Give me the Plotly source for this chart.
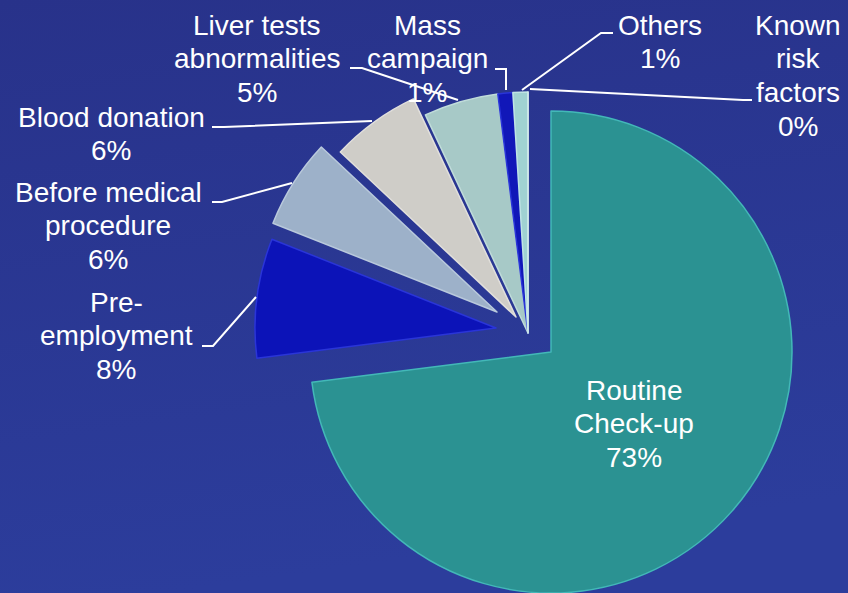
import base64
import plotly.graph_objects as go

# ---------------- data ----------------
categories = ["Routine Check-up", "Pre-employment", "Before medical procedure",
              "Blood donation", "Liver tests abnormalities", "Mass campaign",
              "Others", "Known risk factors"]
values = [73, 8, 6, 6, 5, 1, 1, 0]
display_lines = [["Routine", "Check-up"], ["Pre-", "employment"],
                 ["Before medical", "procedure"], ["Blood donation"],
                 ["Liver tests", "abnormalities"], ["Mass", "campaign"],
                 ["Others"], ["Known", "risk", "factors"]]

# ---------------- style / layout ----------------
slice_colors = ["#2b9292", "#0c13b8", "#9db1c9", "#cfcdc8",
                "#a7c9c7", "#1117b8", "#a0d2d2", "#c0dcdc"]
rim_colors = ["#43b8b8", "#2a35d8", "#b9c9dc", "#e2e0dc",
              "#c0dcda", "#2a35d8", "#bfe4e4", "#d4ecec"]
W, H = 848, 593
R = 241  # pie radius in px
# exploded groups: (slice indices, apex pixel position)
groups = [([0], (551, 352)), ([1], (496, 328)), ([2], (497, 312)),
          ([3], (516, 317)), ([4, 5, 6, 7], (528, 333))]
# label anchor: (center x px, first baseline px)
label_pos = [(634, 400), (116, 312), (108, 202), (111, 127),
             (257, 35), (427, 35), (660, 35), (798, 35)]
line_step = 33.7
font_size = 28
leaders = [
    [(350, 68), (362, 68), (458, 100)],
    [(495, 69), (506, 69), (506, 90)],
    [(613, 33), (601, 33), (522, 90)],
    [(752, 100), (743, 100), (530, 89)],
    [(212, 127), (224, 127), (372, 121)],
    [(212, 202), (222, 202), (292, 183)],
    [(202, 346), (213, 346), (256, 297)],
]


def px(x):
    return x / W


def py(y):
    return 1 - y / H


fig = go.Figure()
for idx, (ax, ay) in groups:
    cols = [slice_colors[i] if i in idx else "rgba(0,0,0,0)" for i in range(len(values))]
    lcols = [rim_colors[i] if i in idx else "rgba(0,0,0,0)" for i in range(len(values))]
    dx = [max(0.0, (ax - R) / W), min(1.0, (ax + R) / W)]
    dy = [max(0.0, (H - ay - R) / H), min(1.0, (H - ay + R) / H)]
    fig.add_trace(go.Pie(
        labels=categories, values=values, sort=False, direction="clockwise",
        rotation=0, textinfo="none", hoverinfo="label+percent",
        showlegend=False,
        marker=dict(colors=cols, line=dict(color=lcols, width=1.5)),
        domain=dict(x=dx, y=dy),
    ))

annotations = []
for i, cat in enumerate(categories):
    lines = display_lines[i] + [f"{values[i]}%"]
    cx, b0 = label_pos[i]
    for k, t in enumerate(lines):
        base = b0 + k * line_step
        annotations.append(dict(
            x=px(cx), y=py(base - 0.35 * font_size), xref="paper", yref="paper",
            text=t, showarrow=False, xanchor="center", yanchor="middle",
            font=dict(family="Liberation Sans, Arial, sans-serif",
                      size=font_size, color="white"),
        ))

shapes = []
for pts in leaders:
    path = "M " + " L ".join(f"{px(x):.5f},{py(y):.5f}" for x, y in pts)
    shapes.append(dict(type="path", xref="paper", yref="paper", path=path,
                       line=dict(color="white", width=2)))

svg = (f'<svg xmlns="http://www.w3.org/2000/svg" width="{W}" height="{H}" '
       f'preserveAspectRatio="none" viewBox="0 0 {W} {H}">'
       '<defs><linearGradient id="g" x1="0" y1="0" x2="0.2" y2="1">'
       '<stop offset="0" stop-color="#28328a"/>'
       '<stop offset="1" stop-color="#2c3d9c"/></linearGradient></defs>'
       f'<rect width="{W}" height="{H}" fill="url(#g)"/></svg>')
src = "data:image/svg+xml;base64," + base64.b64encode(svg.encode()).decode()

fig.update_layout(
    width=W, height=H,
    margin=dict(l=0, r=0, t=0, b=0),
    paper_bgcolor="#2a3792", plot_bgcolor="rgba(0,0,0,0)",
    images=[dict(source=src, xref="paper", yref="paper", x=0, y=1,
                 sizex=1, sizey=1, sizing="stretch", layer="below")],
    annotations=annotations,
    shapes=shapes,
    showlegend=False,
)

fig.write_html(
    "out.html",
    config={"displayModeBar": False},
    post_script="document.body.style.margin='0';"
                "document.body.style.overflow='hidden';"
                "document.documentElement.style.overflow='hidden';",
)
